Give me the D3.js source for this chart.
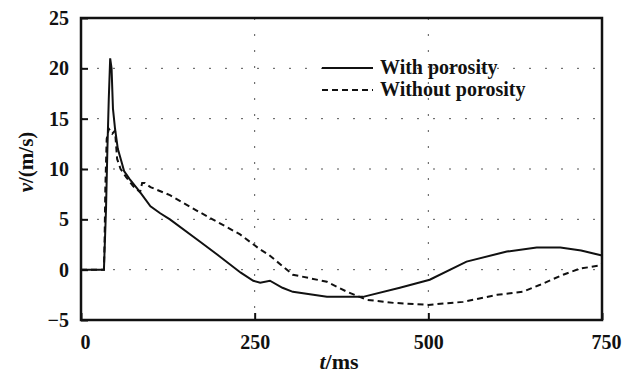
<!DOCTYPE html>
<html>
<head>
<meta charset="utf-8">
<script src="https://cdn.jsdelivr.net/npm/d3@7"></script>
<style>
  body { margin: 0; background: #fff; }
  text { font-family: "Liberation Serif", "Times New Roman", serif; font-weight: bold; fill: #111; }
</style>
</head>
<body>
<div id="chart"></div>
<script>
// values, t in ms, v in m/s
var withT = [0, 33, 34, 36, 38, 40, 42, 44, 46, 49, 53, 58, 62, 70, 85, 100, 114, 128, 171, 196, 230, 248, 258, 272, 290, 305, 354, 406, 459, 502, 555, 613, 656, 690, 720, 750];
var withV = [0, 0, 2, 6, 12, 17, 21, 20, 16, 14, 12, 10.8, 9.8, 9, 7.7, 6.3, 5.6, 5.0, 2.8, 1.5, -0.3, -1.1, -1.3, -1.1, -1.8, -2.2, -2.7, -2.7, -1.8, -1.0, 0.8, 1.8, 2.2, 2.2, 1.9, 1.4];

var noT = [0, 33, 34, 35, 37, 40, 45, 49, 52, 57, 65, 75, 85, 88, 92, 100, 128, 171, 229, 258, 270, 305, 354, 383, 412, 450, 500, 550, 599, 636, 661, 694, 718, 745, 750];
var noV = [0, 0, 3, 8, 13, 14, 13.5, 13.8, 11, 10, 9.2, 8.3, 7.7, 8.6, 8.6, 8.2, 7.4, 5.7, 3.5, 2.0, 1.5, -0.5, -1.2, -2.2, -3.0, -3.3, -3.5, -3.2, -2.5, -2.2, -1.5, -0.5, 0.1, 0.4, 0.6];

var xTicks = [0, 250, 500, 750];
var yTicks = [-5, 0, 5, 10, 15, 20, 25];
var seriesNames = ["With porosity", "Without porosity"];

var W = 638, H = 374;
var pL = 81, pR = 602, pT = 18, pB = 320;

var svg = d3.select("#chart").append("svg").attr("width", W).attr("height", H);

var x = d3.scaleLinear().domain([0, 750]).range([pL, pR]);
var y = d3.scaleLinear().domain([-5, 25]).range([pB, pT]);

// dotted grid
var grid = svg.append("g").attr("stroke", "#555").attr("stroke-width", 1).attr("stroke-dasharray", "2,14");
grid.selectAll(".gy").data(yTicks.filter(d => d > -5 && d < 25)).enter().append("line")
  .attr("x1", pL).attr("x2", pR).attr("y1", d => y(d)).attr("y2", d => y(d));
grid.selectAll(".gx").data(xTicks.filter(d => d > 0 && d < 750)).enter().append("line")
  .attr("y1", pT).attr("y2", pB).attr("x1", d => x(d)).attr("x2", d => x(d));

// inward ticks via axes
var yAxis = d3.axisLeft(y).tickValues(yTicks).tickSize(-7).tickPadding(12);
var xAxis = d3.axisBottom(x).tickValues(xTicks).tickSize(-7).tickPadding(15);

var gy = svg.append("g").attr("transform", "translate(" + pL + ",0)").call(yAxis);
var gx = svg.append("g").attr("transform", "translate(0," + pB + ")").call(xAxis);
[gy, gx].forEach(function(g) {
  g.select(".domain").remove();
  g.selectAll(".tick line").attr("stroke", "#111").attr("stroke-width", 2);
  g.selectAll(".tick text").style("font-size", "20px").style("font-family", "Liberation Serif, serif").style("font-weight", "bold").attr("fill", "#111");
});
gx.selectAll(".tick text").attr("dx", function(d) { return d == 0 || d == 750 ? 4 : 0; });

// frame
svg.append("rect").attr("x", pL).attr("y", pT).attr("width", pR - pL).attr("height", pB - pT)
  .attr("fill", "none").attr("stroke", "#111").attr("stroke-width", 2.5);

var line = d3.line().x(d => x(d[0])).y(d => y(d[1]));

svg.append("path").datum(d3.zip(withT, withV)).attr("d", line)
  .attr("fill", "none").attr("stroke", "#111").attr("stroke-width", 2);
svg.append("path").datum(d3.zip(noT, noV)).attr("d", line)
  .attr("fill", "none").attr("stroke", "#111").attr("stroke-width", 2).attr("stroke-dasharray", "6,4");

// legend
var lg = svg.append("g");
seriesNames.forEach(function(name, i) {
  var ly = 68 + i * 22;
  lg.append("line").attr("x1", 322).attr("x2", 373).attr("y1", ly).attr("y2", ly)
    .attr("stroke", "#111").attr("stroke-width", 2).attr("stroke-dasharray", i ? "6,4" : null);
  lg.append("text").attr("x", 380).attr("y", ly + 6).style("font-size", "20px").text(name);
});

// axis titles
var xt = svg.append("text").attr("x", 339).attr("y", 369).attr("text-anchor", "middle").style("font-size", "22px");
xt.append("tspan").style("font-style", "italic").text("t");
xt.append("tspan").text("/ms");

var yt = svg.append("text").attr("transform", "translate(33,162) rotate(-90)").attr("text-anchor", "middle").style("font-size", "21px");
yt.append("tspan").style("font-style", "italic").text("v");
yt.append("tspan").text("/(m/s)");
</script>
</body>
</html>
